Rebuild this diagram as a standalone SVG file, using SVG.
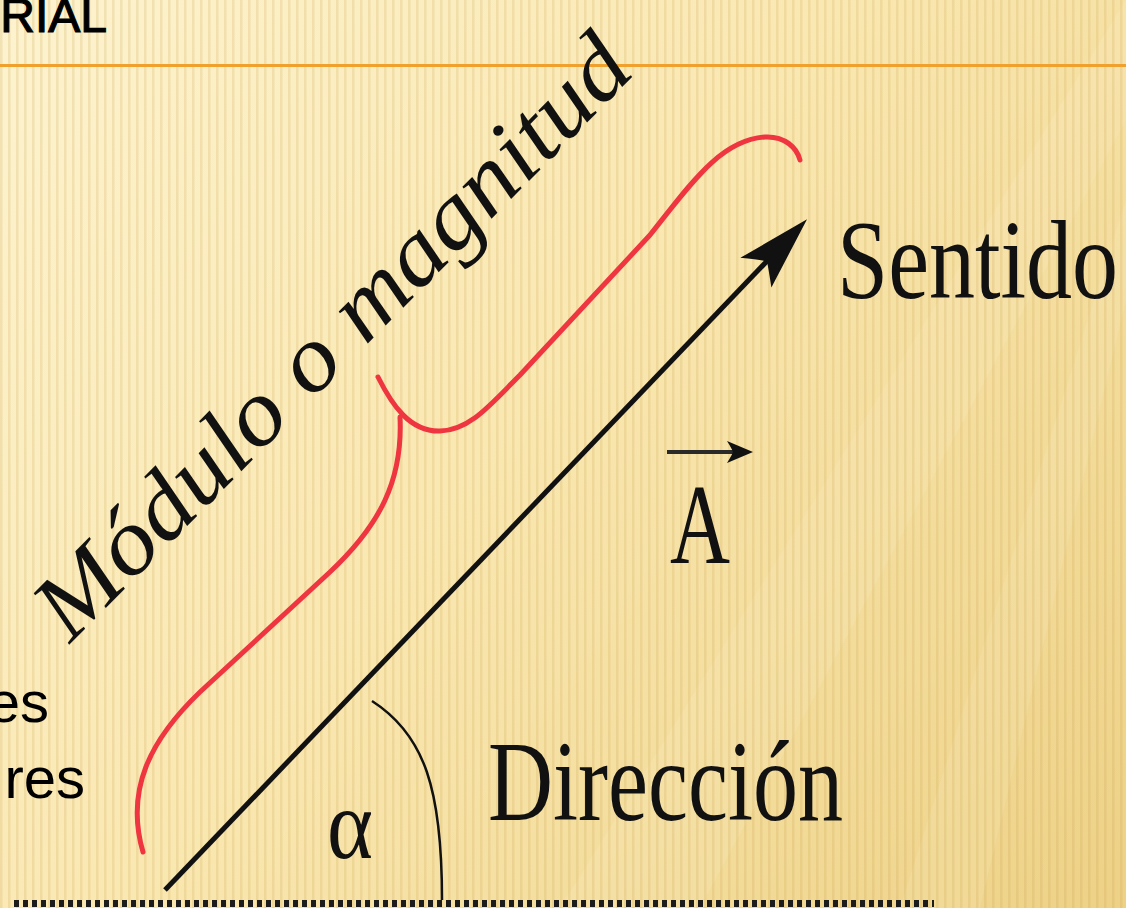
<svg xmlns="http://www.w3.org/2000/svg" width="1126" height="908" viewBox="0 0 1126 908">
  <defs>
    <linearGradient id="bg" gradientUnits="userSpaceOnUse" x1="0" y1="0" x2="1126" y2="908">
      <stop offset="0" stop-color="#fdf3cf"/>
      <stop offset="0.45" stop-color="#fae8b2"/>
      <stop offset="1" stop-color="#edd186"/>
    </linearGradient>
    <pattern id="stripes" patternUnits="userSpaceOnUse" width="8" height="908">
      <rect x="0" y="0" width="2.5" height="908" fill="#c9a24a" opacity="0.2"/>
    </pattern>
    <marker id="bigHead" markerUnits="userSpaceOnUse" markerWidth="100" markerHeight="60" viewBox="-30 -30 100 60" refX="0" refY="0" orient="auto" overflow="visible">
      <path d="M55,0 L-19,-21.5 Q-7,-6 -3,0 Q-7,6 -19,21.5 Z" fill="#111"/>
    </marker>
    <marker id="smallHead" markerUnits="userSpaceOnUse" markerWidth="40" markerHeight="30" viewBox="-10 -15 40 30" refX="0" refY="0" orient="auto" overflow="visible">
      <path d="M20,0 L-6,-11 Q-1,-3 0,0 Q-1,3 -6,11 Z" fill="#111"/>
    </marker>
    <style>
      .serif { font-family: "Liberation Serif", "DejaVu Serif", serif; fill: #111; }
      .sans { font-family: "Liberation Sans", Arial, sans-serif; fill: #000; }
      .brace { fill: none; stroke: #ee3540; stroke-width: 5; stroke-linecap: round; stroke-linejoin: round; }
    </style>
  </defs>

  <!-- background -->
  <rect x="0" y="0" width="1126" height="908" fill="url(#bg)"/>
  <polygon points="1126,0 1126,120 700,908 560,908" fill="#fff8dc" opacity="0.12"/>
  <polygon points="1126,200 1126,300 980,908 900,908" fill="#fff8dc" opacity="0.12"/>
  <rect x="0" y="0" width="1126" height="908" fill="url(#stripes)"/>

  <!-- header -->
  <g id="title">
    <text class="sans" x="107" y="32" font-size="48" text-anchor="end" stroke="#000" stroke-width="1.2">RIAL</text>
  </g>
  <rect id="rule" x="0" y="64" width="1126" height="3" fill="#f0a02c"/>

  <!-- left body text fragments -->
  <g id="body-text">
    <text class="sans" x="49" y="722" font-size="58" text-anchor="end">es</text>
    <text class="sans" x="85" y="798" font-size="58" text-anchor="end">res</text>
  </g>

  <!-- connectors -->
  <g id="connectors">
    <line id="vector-A" x1="165" y1="890" x2="769" y2="259" stroke="#111" stroke-width="5" marker-end="url(#bigHead)"/>
    <path id="brace-upper" class="brace" d="M378,377 C392,405 410,432 440,431 C470,430 490,405 520,375 L650,235 C690,185 720,140 765,137 C785,136 797,148 800,160"/>
    <path id="brace-lower" class="brace" d="M400,417 C403,480 380,525 330,572 L200,692 C150,740 125,790 143,852"/>
    <path id="angle-arc" d="M372,701 C425,735 442,790 442,900" fill="none" stroke="#111" stroke-width="2.5"/>
    <line id="vec-bar" x1="667" y1="452" x2="733" y2="452" stroke="#2a2a2a" stroke-width="4" marker-end="url(#smallHead)"/>
    <line id="baseline" x1="14" y1="903.5" x2="934" y2="903.5" stroke="#1c1c1c" stroke-width="7" stroke-dasharray="5 4"/>
  </g>

  <!-- labels -->
  <g id="label-modulo">
    <text class="serif" font-style="italic" font-size="94" textLength="805" lengthAdjust="spacingAndGlyphs" transform="translate(70,644) rotate(-45.25)">Módulo o magnitud</text>
  </g>
  <g id="label-sentido">
    <text class="serif" x="837" y="298" font-size="112" textLength="281" lengthAdjust="spacingAndGlyphs">Sentido</text>
  </g>
  <g id="label-A">
    <text class="serif" x="670" y="563" font-size="114" textLength="60" lengthAdjust="spacingAndGlyphs">A</text>
  </g>
  <g id="label-direccion">
    <text class="serif" x="488" y="820" font-size="114" textLength="355" lengthAdjust="spacingAndGlyphs">Dirección</text>
  </g>
  <g id="label-alpha">
    <text class="serif" x="327" y="858" font-size="100" textLength="46" lengthAdjust="spacingAndGlyphs">α</text>
  </g>
</svg>
